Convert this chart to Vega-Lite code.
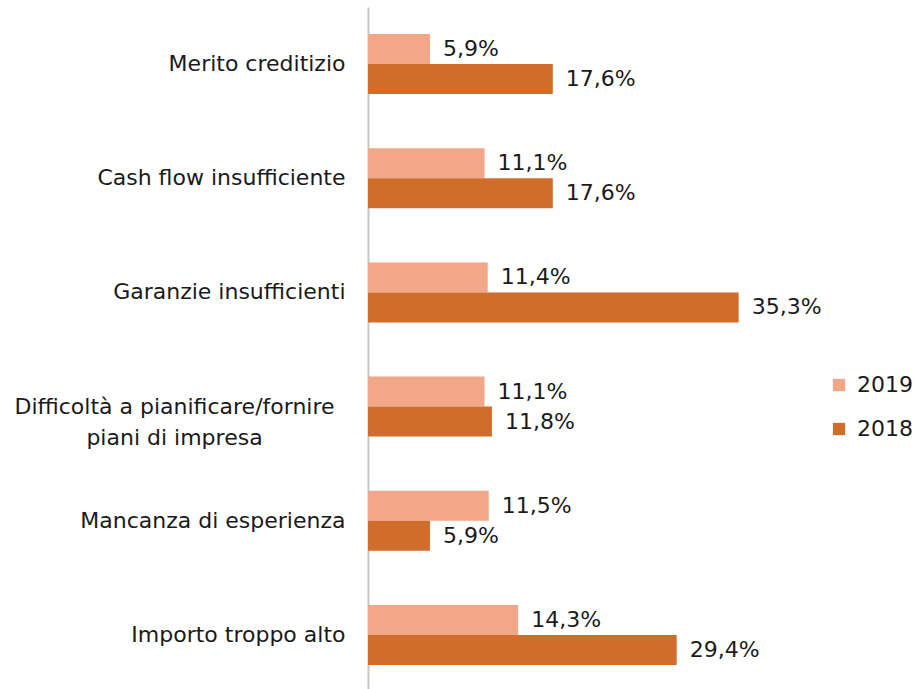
{
  "$schema": "https://vega.github.io/schema/vega-lite/v6.json",
  "width": 420,
  "height": 685,
  "autosize": "none",
  "padding": {"left": 368, "top": 7, "right": 135, "bottom": 0},
  "background": "white",
  "config": {
    "view": {"stroke": null},
    "font": "DejaVu Sans",
    "locale": {"number": {"decimal": ",", "thousands": ".", "grouping": [3], "currency": ["", " €"]}}
  },
  "data": {
    "values": [
      {"motivo": "Merito creditizio", "anno": "2019", "quota": 0.059},
      {"motivo": "Merito creditizio", "anno": "2018", "quota": 0.176},
      {"motivo": "Cash flow insufficiente", "anno": "2019", "quota": 0.111},
      {"motivo": "Cash flow insufficiente", "anno": "2018", "quota": 0.176},
      {"motivo": "Garanzie insufficienti", "anno": "2019", "quota": 0.114},
      {"motivo": "Garanzie insufficienti", "anno": "2018", "quota": 0.353},
      {"motivo": "Difficoltà a pianificare/fornire piani di impresa", "anno": "2019", "quota": 0.111},
      {"motivo": "Difficoltà a pianificare/fornire piani di impresa", "anno": "2018", "quota": 0.118},
      {"motivo": "Mancanza di esperienza", "anno": "2019", "quota": 0.115},
      {"motivo": "Mancanza di esperienza", "anno": "2018", "quota": 0.059},
      {"motivo": "Importo troppo alto", "anno": "2019", "quota": 0.143},
      {"motivo": "Importo troppo alto", "anno": "2018", "quota": 0.294}
    ]
  },
  "encoding": {
    "y": {
      "field": "motivo",
      "type": "nominal",
      "sort": null,
      "scale": {"paddingInner": 0.475, "paddingOuter": 0.2375},
      "axis": {
        "title": null,
        "ticks": false,
        "domainColor": "#C8C8C8",
        "domainWidth": 2,
        "labelFontSize": 22,
        "labelColor": "#1a1a1a",
        "labelLineHeight": 31,
        "labelLimit": 400,
        "labelPadding": {"condition": {"test": "indexof(datum.value, 'Difficolt') == 0", "value": 194}, "value": 23},
        "labelAlign": {"condition": {"test": "indexof(datum.value, 'Difficolt') == 0", "value": "center"}, "value": "right"},
        "labelExpr": "indexof(datum.label, 'Difficolt') == 0 ? ['Difficoltà a pianificare/fornire', 'piani di impresa'] : datum.label"
      }
    },
    "yOffset": {"field": "anno", "type": "nominal", "scale": {"domain": ["2019", "2018"], "paddingInner": 0, "paddingOuter": 0}},
    "x": {
      "field": "quota",
      "type": "quantitative",
      "scale": {"domain": [0, 0.4], "nice": false},
      "axis": null
    }
  },
  "layer": [
    {
      "mark": {"type": "bar"},
      "encoding": {
        "color": {
          "field": "anno",
          "type": "nominal",
          "scale": {"domain": ["2019", "2018"], "range": ["#F1A788", "#D26C2B"]},
          "legend": {
            "title": null,
            "orient": "none",
            "legendX": 460,
            "legendY": 367,
            "padding": 0,
            "symbolType": "square",
            "symbolSize": 150,
            "symbolStrokeWidth": 0,
            "labelFontSize": 22,
            "labelColor": "#1a1a1a",
            "labelOffset": 7,
            "rowPadding": 22
          }
        }
      }
    },
    {
      "mark": {"type": "text", "align": "left", "baseline": "middle", "dx": 13, "fontSize": 22, "color": "#1a1a1a"},
      "encoding": {
        "text": {"field": "quota", "type": "quantitative", "format": ".1%"}
      }
    }
  ]
}
